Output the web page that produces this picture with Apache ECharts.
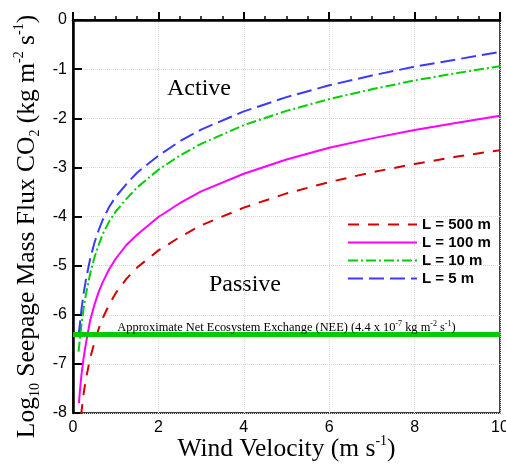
<!DOCTYPE html>
<html>
<head>
<meta charset="utf-8">
<script src="https://cdn.jsdelivr.net/npm/echarts@6/dist/echarts.min.js"></script>
<style>
  html, body { margin: 0; background: #fff; }
  #chart { width: 506px; height: 465px; }
</style>
</head>
<body>
<div id="chart"></div>
<script>
// ---- data ----
const names = ['L = 500 m', 'L = 100 m', 'L = 10 m', 'L = 5 m'];

const velL500 = [0.19, 0.2, 0.25, 0.3, 0.4, 0.5, 0.6, 0.7, 0.85, 1, 1.25, 1.5, 2, 2.5, 3, 4, 5, 6, 7, 8, 9, 10];
const fluxL500 = [-8.04, -7.96, -7.6, -7.32, -6.89, -6.57, -6.29, -6.06, -5.79, -5.56, -5.27, -5.04, -4.69, -4.42, -4.18, -3.82, -3.53, -3.3, -3.1, -2.93, -2.78, -2.65];

const velL100 = [0.14, 0.16, 0.2, 0.25, 0.3, 0.4, 0.5, 0.6, 0.7, 0.85, 1, 1.25, 1.5, 2, 2.5, 3, 4, 5, 6, 7, 8, 9, 10];
const fluxL100 = [-7.8, -7.57, -7.21, -6.87, -6.6, -6.12, -5.8, -5.54, -5.33, -5.07, -4.86, -4.58, -4.37, -4.01, -3.73, -3.49, -3.13, -2.84, -2.6, -2.41, -2.24, -2.09, -1.95];

const velSmall = [0.13, 0.16, 0.2, 0.25, 0.3, 0.4, 0.5, 0.6, 0.7, 0.85, 1, 1.25, 1.5, 2, 2.5, 3, 4, 5, 6, 7, 8, 9, 10];
const fluxL10 = [-6.75, -6.5, -6.18, -5.86, -5.6, -5.17, -4.84, -4.58, -4.35, -4.1, -3.9, -3.64, -3.41, -3.05, -2.76, -2.52, -2.14, -1.85, -1.61, -1.41, -1.23, -1.08, -0.94];
const fluxL5 = [-6.42, -6.2, -5.88, -5.56, -5.3, -4.87, -4.54, -4.28, -4.06, -3.8, -3.6, -3.34, -3.11, -2.76, -2.47, -2.23, -1.86, -1.57, -1.33, -1.13, -0.95, -0.8, -0.65];

const neeLevel = -6.4;
const neeRange = [0, 10];

const xTicks = [0, 10, 2];   // min, max, step
const yTicks = [-8, 0, 1];

// ---- helpers ----
function pairs(xs, ys) {
  return xs.map(function (x, i) { return [x, ys[i]]; });
}

const serif = 'Liberation Serif';
const sans = 'Liberation Sans';

function curve(name, xs, ys, color, dash) {
  return {
    name: name,
    type: 'line',
    data: pairs(xs, ys),
    symbol: 'none',
    smooth: false,
    clip: true,
    lineStyle: { color: color, width: 2, type: dash },
    itemStyle: { color: color },
    z: 3
  };
}

var chart = echarts.init(document.getElementById('chart'));

var option = {
  animation: false,
  backgroundColor: '#fff',
  grid: {
    left: 73, right: 6, top: 20, bottom: 52,
    outerBoundsMode: 'none',
    containLabel: false,
    show: true, borderColor: '#000', borderWidth: 1.5
  },
  legend: {
    data: names,
    orient: 'vertical',
    left: 342, top: 212,
    itemWidth: 69, itemHeight: 14, itemGap: 3,
    selectedMode: false,
    itemStyle: { opacity: 0 },
    textStyle: { fontFamily: sans, fontWeight: 'bold', fontSize: 15, color: '#000' }
  },
  xAxis: {
    type: 'value',
    min: xTicks[0], max: xTicks[1], interval: xTicks[2],
    name: 'Wind Velocity (m s{sup|-1})',
    nameLocation: 'middle',
    nameGap: 21,
    nameMoveOverlap: false,
    nameTextStyle: {
      fontFamily: serif, fontSize: 25.5, color: '#000', lineHeight: 30,
      rich: { sup: { fontFamily: serif, fontSize: 14, lineHeight: 14, verticalAlign: 'top', color: '#000' } }
    },
    axisLine: { lineStyle: { color: '#000', width: 2.5 } },
    axisTick: { inside: true, length: 8, lineStyle: { color: '#000', width: 2 } },
    minorTick: { show: true, splitNumber: 4, length: 4, lineStyle: { color: '#000', width: 1.5 } },
    axisLabel: { fontFamily: sans, fontSize: 16, color: '#000', margin: 7 },
    splitLine: { show: true, lineStyle: { color: '#d8d8d8', type: 'dotted', width: 1 } }
  },
  yAxis: {
    type: 'value',
    min: yTicks[0], max: yTicks[1], interval: yTicks[2],
    name: 'Log{sub|10} Seepage Mass Flux CO{sub|2} (kg m{sup|-2} s{sup|-1})',
    nameLocation: 'middle',
    nameGap: 31,
    nameRotate: 90,
    nameTextStyle: {
      fontFamily: serif, fontSize: 25.5, color: '#000', lineHeight: 30,
      padding: [0, 20, 0, 0],
      rich: {
        sup: { fontFamily: serif, fontSize: 14, lineHeight: 14, verticalAlign: 'top', color: '#000' },
        sub: { fontFamily: serif, fontSize: 14, lineHeight: 14, verticalAlign: 'bottom', color: '#000' }
      }
    },
    axisLine: { lineStyle: { color: '#000', width: 2.5 } },
    axisTick: { inside: true, length: 9, lineStyle: { color: '#000', width: 2 } },
    axisLabel: { fontFamily: sans, fontSize: 16, color: '#000', margin: 6 },
    splitLine: { show: true, lineStyle: { color: '#d8d8d8', type: 'dotted', width: 1 } }
  },
  series: [
    curve(names[0], velL500, fluxL500, '#d40000', [11, 9]),
    curve(names[1], velL100, fluxL100, '#ff00ff', 'solid'),
    curve(names[2], velSmall, fluxL10, '#00d000', [10, 3, 2, 3]),
    curve(names[3], velSmall, fluxL5, '#3a3aff', [15, 6]),
    {
      name: 'NEE',
      type: 'line',
      data: neeRange.map(function (v) { return [v, neeLevel]; }),
      symbol: 'none',
      lineStyle: { color: '#00cc00', width: 5 },
      z: 2,
      markLine: {
        silent: true,
        symbol: 'none',
        lineStyle: { color: '#00cc00', width: 5, type: 'solid' },
        data: [{ yAxis: neeLevel }],
        label: {
          position: 'insideMiddleTop',
          distance: 0,
          formatter: 'Approximate Net Ecosystem Exchange (NEE) (4.4 x 10{sup|-7} kg m{sup|-2} s{sup|-1})',
          fontFamily: serif, fontSize: 12.4, color: '#000', lineHeight: 14,
          rich: { sup: { fontFamily: serif, fontSize: 8, lineHeight: 8, verticalAlign: 'top', color: '#000' } }
        }
      }
    }
  ],
  graphic: [
    {
      type: 'text', x: 199, y: 89,
      style: { text: 'Active', fontFamily: serif, fontSize: 24, fill: '#000', align: 'center', verticalAlign: 'middle' }
    },
    {
      type: 'text', x: 245, y: 285,
      style: { text: 'Passive', fontFamily: serif, fontSize: 24, fill: '#000', align: 'center', verticalAlign: 'middle' }
    }
  ]
};

chart.setOption(option);
</script>
</body>
</html>
